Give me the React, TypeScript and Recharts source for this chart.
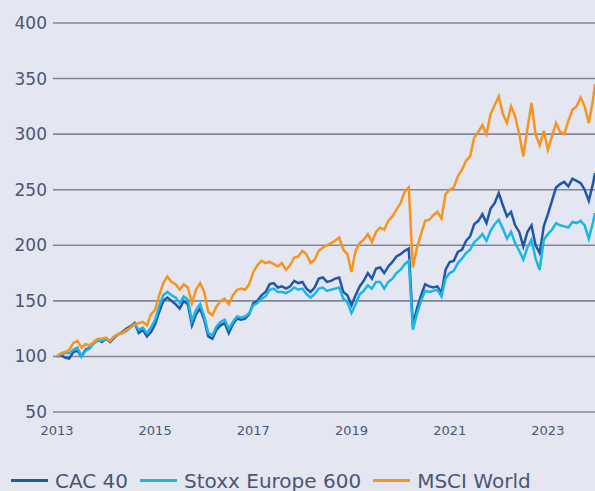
import React from 'react';
import { LineChart, Line, XAxis, YAxis, CartesianGrid, Legend } from 'recharts';

// Monthly observations, Jan 2013 .. Dec 2023, plus last print
const dates: number[] = [
  ...Array.from({ length: 132 }, (_, i) => 2013 + i / 12),
  2023.96,
];

const cac40: number[] = [
  100, 101, 99, 98, 104, 105, 100, 106, 108, 112, 115, 113,
  116, 113, 117, 120, 122, 125, 127, 130, 121, 124, 118, 122,
  129, 140, 150, 153, 150, 147, 143, 150, 147, 128, 138, 143,
  133, 118, 116, 124, 128, 130, 121, 129, 134, 133, 134, 138,
  148, 150, 155, 158, 165, 166, 162, 163, 161, 163, 168, 166,
  167, 161, 158, 162, 170, 171, 167, 168, 170, 171, 158, 155,
  146, 155, 163, 168, 175, 170, 179, 180, 175, 181, 185, 190,
  192, 195, 197, 128, 143, 155, 165, 163, 162, 163, 157, 178,
  185, 186, 194, 196, 204, 208, 219, 222, 228, 220, 233, 238,
  247, 236, 226, 230, 218, 212, 199, 212, 218, 200, 193, 217,
  228, 240, 252, 255, 257, 253, 260, 258, 256, 250, 240, 255,
  265,
];

const stoxx600: number[] = [
  100, 102, 103, 103, 106, 108, 100, 105, 107, 112, 114, 114,
  116, 114, 118, 120, 121, 123, 126, 129, 124, 126, 121, 126,
  133, 145, 155, 158, 155, 153, 148, 154, 151, 132, 142, 147,
  136, 121, 119, 127, 131, 133, 125, 131, 136, 135, 136, 139,
  146, 148, 152, 154, 160, 161, 158, 158, 157, 159, 162, 160,
  161, 156, 153, 156, 161, 162, 159, 160, 161, 162, 152, 149,
  139, 147, 156, 159, 164, 161, 167, 167, 161, 167, 170, 175,
  178, 183, 186, 124, 138, 150, 159, 158, 159, 160, 154, 170,
  175, 177, 184, 188, 193, 196, 203, 206, 210, 204, 213, 219,
  223, 215, 206, 212, 202, 195, 187, 198, 205, 188, 178, 205,
  210, 214, 220, 218, 217, 216, 221, 220, 222, 218, 206, 220,
  229,
];

const msciWorld: number[] = [
  100, 103, 104, 106, 112, 114, 108, 111, 110, 113, 116, 116,
  117, 114, 118, 120, 121, 124, 126, 129, 130, 131, 128, 138,
  142, 155, 166, 172, 167, 165, 160, 165, 162, 148, 160, 166,
  158, 140, 137, 145, 150, 152, 147, 155, 160, 161, 160, 165,
  176, 182, 186, 184, 185, 183, 181, 184, 178, 182, 189, 190,
  195, 192, 184, 187, 195, 198, 200, 202, 204, 207, 196, 192,
  176, 195, 202, 205, 210, 203, 212, 216, 214, 222, 226, 232,
  238, 248, 252, 180, 198, 210, 222, 223, 227, 230, 224, 246,
  250, 252, 262, 268, 276, 280, 297, 302, 308, 300, 318, 326,
  334, 318, 310, 325, 316, 300, 280, 305, 328, 300, 290, 303,
  286, 298, 310, 302, 300, 312, 322, 325, 333, 325, 310, 330,
  345,
];

const xTicks = [2013, 2015, 2017, 2019, 2021, 2023];
const yTicks = [50, 100, 150, 200, 250, 300, 350, 400];

const seriesNames = ['CAC 40', 'Stoxx Europe 600', 'MSCI World'];
const seriesColors = ['#1f58a8', '#19b7e6', '#f7941d'];
const seriesKeys = ['cac', 'stoxx', 'msci'];

const rows = dates.map((t, i) => ({
  t,
  cac: cac40[i],
  stoxx: stoxx600[i],
  msci: msciWorld[i],
}));

const FONT = '"DejaVu Sans", sans-serif';
const TEXT = '#4b5675';
const BG = '#e4e6f2';

const LegendContent = () => (
  <div
    style={{
      height: 49,
      boxSizing: 'border-box',
      paddingTop: 28,
      paddingLeft: 11,
      display: 'flex',
      alignItems: 'center',
      fontFamily: FONT,
      fontSize: 20,
      color: TEXT,
      whiteSpace: 'nowrap',
    }}
  >
    {seriesNames.map((name, i) => (
      <div key={name} style={{ display: 'flex', alignItems: 'center', height: 22, marginRight: 12 }}>
        <span
          style={{
            display: 'inline-block',
            width: 37,
            height: 3,
            background: seriesColors[i],
            marginRight: 7,
          }}
        />
        <span>{name}</span>
      </div>
    ))}
  </div>
);

export default function App() {
  return (
    <div style={{ position: 'absolute', left: 0, top: 0, width: 595, height: 491, background: BG }}>
      <LineChart width={595} height={491} data={rows} margin={{ top: 23, right: 0, bottom: 0, left: 0 }}>
        <CartesianGrid horizontal vertical={false} stroke="#80869a" strokeWidth={1.6} />
        <XAxis
          dataKey="t"
          type="number"
          domain={[2012.92, 2023.96]}
          ticks={xTicks}
          allowDataOverflow
          axisLine={false}
          tickLine={false}
          tickMargin={8}
          height={30}
          tick={{ fill: TEXT, fontSize: 13, fontFamily: FONT }}
        />
        <YAxis
          type="number"
          domain={[50, 400]}
          ticks={yTicks}
          axisLine={false}
          tickLine={false}
          tickMargin={0}
          width={53}
          tick={{ fill: TEXT, fontSize: 17, fontFamily: FONT }}
        />
        <Legend verticalAlign="bottom" align="left" content={<LegendContent />} />
        {seriesKeys.map((k, i) => (
          <Line
            key={k}
            type="linear"
            dataKey={k}
            name={seriesNames[i]}
            stroke={seriesColors[i]}
            strokeWidth={2.5}
            dot={false}
            isAnimationActive={false}
          />
        ))}
      </LineChart>
    </div>
  );
}
